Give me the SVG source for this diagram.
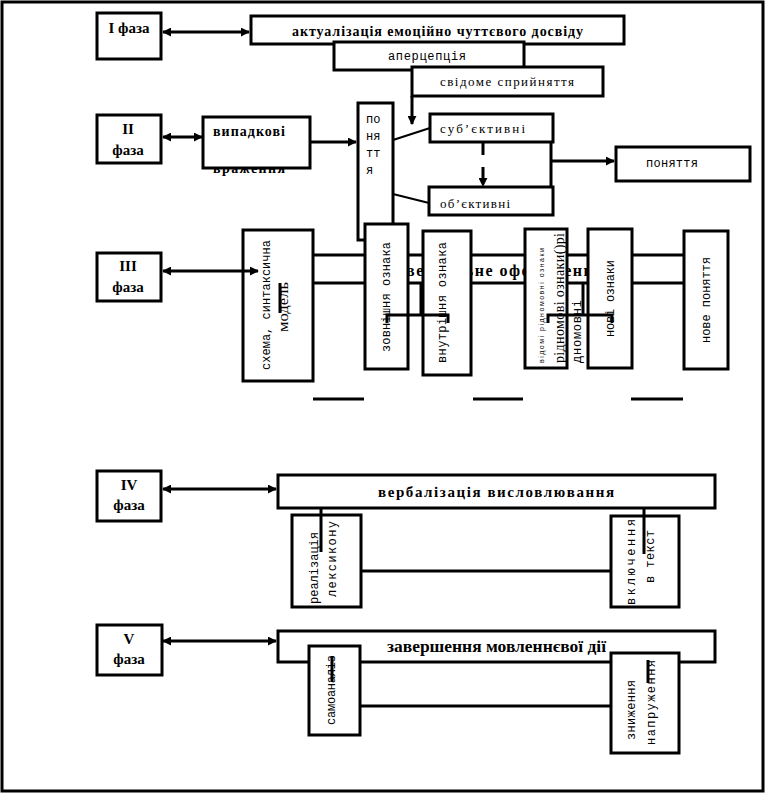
<svg xmlns="http://www.w3.org/2000/svg" width="766" height="794" viewBox="0 0 766 794">
<defs>
<marker id="ah" viewBox="0 0 10 10" refX="9" refY="5" markerWidth="3" markerHeight="3" orient="auto-start-reverse"><path d="M0,0 L10,5 L0,10 z" fill="#000"/></marker>
<style>
.bx{fill:#fff;stroke:#000;stroke-width:3}
.ln{fill:none;stroke:#000;stroke-width:3}
.th{fill:none;stroke:#000;stroke-width:2}
.ph{font-family:"Liberation Serif",serif;font-weight:bold;font-size:15px;text-anchor:middle}
.tb{font-family:"Liberation Serif",serif;font-weight:bold;font-size:14px}
.tr{font-family:"Liberation Serif",serif;font-size:13px}
.mo{font-family:"Liberation Mono",monospace;font-size:12px}
.vt{font-family:"Liberation Mono",monospace;font-size:12px}
</style>
</defs>
<rect x="2" y="2" width="761" height="789" class="ln"/>

<!-- Phase I -->
<g id="phase1"><rect x="97" y="13" width="64" height="46" class="bx"/><text x="129" y="33" class="ph">I фаза</text></g>
<g id="actual"><rect x="251" y="16" width="373" height="28" class="bx"/><text x="292" y="36" class="tb" textLength="291" lengthAdjust="spacing">актуалізація емоційно чуттєвого досвіду</text></g>
<g id="apperc"><rect x="334" y="42" width="190" height="28" class="bx"/><text x="388" y="60" class="mo" textLength="78" lengthAdjust="spacing">аперцепція</text></g>
<g id="svidome"><rect x="412" y="67" width="191" height="29" class="bx"/><text x="440" y="86" class="tr" textLength="134" lengthAdjust="spacing">свідоме сприйняття</text></g>

<!-- Phase II -->
<g id="phase2"><rect x="97" y="115" width="64" height="48" class="bx"/><text x="128" y="134" class="ph">II</text><text x="128" y="155" class="ph">фаза</text></g>
<g id="vypadkovi"><text x="213" y="173" class="tb" textLength="72" lengthAdjust="spacing">враження</text><rect x="203" y="117" width="107" height="51" class="bx"/><text x="213" y="136" class="tb" textLength="72" lengthAdjust="spacing">випадкові</text></g>
<g id="ponyattya1"><rect x="358" y="103" width="35" height="137" class="bx"/>
<text x="366" y="123" class="mo">по</text><text x="366" y="140" class="mo">ня</text><text x="366" y="157" class="mo">тт</text><text x="366" y="174" class="mo">я</text></g>
<g id="subj"><rect x="430" y="114" width="123" height="28" class="bx"/><text x="440" y="133" class="tr" textLength="85" lengthAdjust="spacing">суб’єктивні</text></g>
<g id="obj"><rect x="429" y="187" width="124" height="28" class="bx"/><text x="440" y="208" class="tr" textLength="70" lengthAdjust="spacing">об’єктивні</text></g>
<g id="ponyattya2"><rect x="616" y="147" width="134" height="34" class="bx"/><text x="646" y="167" class="mo" textLength="52" lengthAdjust="spacing">поняття</text></g>

<!-- Phase III -->
<g id="phase3"><rect x="97" y="253" width="64" height="48" class="bx"/><text x="128" y="271" class="ph">III</text><text x="128" y="292" class="ph">фаза</text></g>
<g id="band"><line x1="313" y1="255" x2="684" y2="255" class="ln"/><line x1="313" y1="283" x2="684" y2="283" class="ln"/>
<text x="406" y="276" font-family="Liberation Serif,serif" font-weight="bold" font-size="16" letter-spacing="1.5">вербальне   оформлення</text></g>
<g id="schema"><rect x="243" y="230" width="70" height="151" class="bx"/>
<text transform="translate(270,370) rotate(-90)" class="vt" textLength="130" lengthAdjust="spacing">схема, синтаксична</text>
<text transform="translate(288,332) rotate(-90)" font-family="Liberation Serif,serif" font-size="15" textLength="50" lengthAdjust="spacingAndGlyphs">модель</text>
<line x1="280" y1="283" x2="280" y2="313" class="ln"/></g>
<g id="zovn"><rect x="365" y="224" width="43" height="145" class="bx"/><text transform="translate(390,352) rotate(-90)" class="vt" textLength="110" lengthAdjust="spacing">зовнішня ознака</text></g>
<g id="vnutr"><rect x="423" y="231" width="48" height="144" class="bx"/><text transform="translate(446,363) rotate(-90)" class="vt" textLength="121" lengthAdjust="spacing">внутрішня ознака</text></g>
<g id="vidomi"><rect x="525" y="229" width="42" height="139" class="bx"/>
<text transform="translate(544,363) rotate(-90)" font-family="Liberation Sans,sans-serif" font-size="7" textLength="115" lengthAdjust="spacing">відомі рідномовні ознаки</text>
<text transform="translate(564,363) rotate(-90)" font-family="Liberation Serif,serif" font-size="14" textLength="130" lengthAdjust="spacing">рідномові ознаки()рі</text>
<text transform="translate(581,363) rotate(-90)" class="vt" textLength="63" lengthAdjust="spacing">дномовні</text></g>
<g id="novi"><rect x="588" y="229" width="44" height="139" class="bx"/><text transform="translate(614,337) rotate(-90)" class="vt" textLength="77" lengthAdjust="spacing">нові ознаки</text></g>
<g id="nove"><rect x="684" y="231" width="44" height="138" class="bx"/><text transform="translate(710,343) rotate(-90)" class="vt" textLength="86" lengthAdjust="spacing">нове поняття</text></g>

<!-- Phase IV -->
<g id="phase4"><rect x="97" y="471" width="64" height="50" class="bx"/><text x="129" y="490" class="ph">IV</text><text x="129" y="510" class="ph">фаза</text></g>
<g id="verbal"><rect x="278" y="475" width="437" height="33" class="bx"/><text x="378" y="497" font-family="Liberation Serif,serif" font-weight="bold" font-size="15" textLength="236" lengthAdjust="spacing">вербалізація   висловлювання</text></g>
<g id="realiz"><rect x="292" y="515" width="69" height="92" class="bx"/><text transform="translate(318,604) rotate(-90)" class="vt" textLength="72" lengthAdjust="spacing">реалізація</text><text transform="translate(336,597) rotate(-90)" class="vt" textLength="76" lengthAdjust="spacing">лексикону</text></g>
<g id="vkl"><rect x="611" y="516" width="68" height="91" class="bx"/><text transform="translate(635,605) rotate(-90)" class="vt" textLength="86" lengthAdjust="spacing">включення</text><text transform="translate(654,583) rotate(-90)" class="vt" textLength="53" lengthAdjust="spacing">в текст</text></g>

<!-- Phase V -->
<g id="phase5"><rect x="97" y="625" width="65" height="50" class="bx"/><text x="129" y="644" class="ph">V</text><text x="129" y="664" class="ph">фаза</text></g>
<g id="zaversh"><rect x="278" y="631" width="437" height="31" class="bx"/><text x="387" y="652" font-family="Liberation Serif,serif" font-weight="bold" font-size="16" textLength="219" lengthAdjust="spacingAndGlyphs">завершення мовленнєвої дії</text></g>
<g id="samoan"><rect x="309" y="646" width="51" height="89" class="bx"/><text transform="translate(335,725) rotate(-90)" class="vt" textLength="70" lengthAdjust="spacing">самоаналіз</text><line x1="332" y1="656" x2="332" y2="682" class="ln"/></g>
<g id="znyzh"><rect x="611" y="653" width="68" height="100" class="bx"/><text transform="translate(635,740) rotate(-90)" class="vt" textLength="60" lengthAdjust="spacing">зниження</text><text transform="translate(655,745) rotate(-90)" class="vt" textLength="85" lengthAdjust="spacing">напруження</text><line x1="648" y1="660" x2="648" y2="683" class="ln"/></g>

<g id="connectors">
<line x1="163" y1="32" x2="249" y2="32" class="ln" marker-start="url(#ah)" marker-end="url(#ah)"/>
<line x1="412" y1="96" x2="412" y2="124" class="ln" marker-end="url(#ah)"/>
<line x1="163" y1="137" x2="202" y2="137" class="ln" marker-start="url(#ah)" marker-end="url(#ah)"/>
<line x1="311" y1="142" x2="356" y2="142" class="ln" marker-end="url(#ah)"/>
<line x1="393" y1="140" x2="430" y2="128" class="th"/>
<line x1="393" y1="194" x2="429" y2="203" class="th"/>
<line x1="483" y1="143" x2="483" y2="186" class="ln" stroke-dasharray="12,12" marker-end="url(#ah)"/>
<line x1="551" y1="142" x2="551" y2="187" class="ln"/>
<line x1="551" y1="161" x2="614" y2="161" class="ln" marker-end="url(#ah)"/>
<line x1="163" y1="271" x2="258" y2="271" class="ln" marker-start="url(#ah)" marker-end="url(#ah)"/>
<polyline points="421,283 421,315" class="ln"/>
<polyline points="387,323 387,315 448,315 448,323" class="ln"/>
<polyline points="583,283 583,315" class="ln"/>
<polyline points="548,323 548,315 612,315 612,323" class="ln"/>
<line x1="313" y1="399" x2="364" y2="399" class="ln"/>
<line x1="473" y1="399" x2="523" y2="399" class="ln"/>
<line x1="631" y1="399" x2="683" y2="399" class="ln"/>
<line x1="163" y1="489" x2="276" y2="489" class="ln" marker-start="url(#ah)" marker-end="url(#ah)"/>
<line x1="321" y1="508" x2="321" y2="552" class="ln"/>
<line x1="644" y1="508" x2="644" y2="554" class="ln"/>
<line x1="361" y1="571" x2="611" y2="571" class="ln"/>
<line x1="163" y1="641" x2="276" y2="641" class="ln" marker-start="url(#ah)" marker-end="url(#ah)"/>
<line x1="360" y1="706" x2="611" y2="706" class="ln"/>
</g>
</svg>
